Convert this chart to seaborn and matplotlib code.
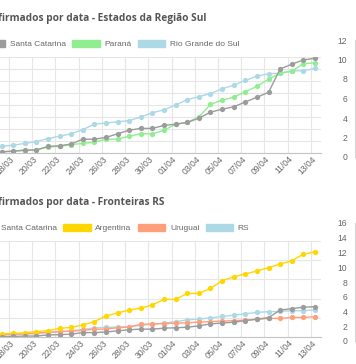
import matplotlib
matplotlib.use("Agg")
import matplotlib.pyplot as plt
from matplotlib.patches import Patch
import seaborn as sns
import pandas as pd

datas = ["17/03", "18/03", "19/03", "20/03", "21/03", "22/03", "23/03", "24/03",
         "25/03", "26/03", "27/03", "28/03", "29/03", "30/03", "31/03", "01/04",
         "02/04", "03/04", "04/04", "05/04", "06/04", "07/04", "08/04", "09/04",
         "10/04", "11/04", "12/04", "13/04"]

santa_catarina = [0.2, 0.3, 0.5, 0.5, 1.1, 1.2, 1.5, 2.3, 2.3, 2.6, 3.2, 3.8, 4.1, 4.1,
                  4.6, 4.8, 5.1, 5.8, 6.8, 7.3, 7.7, 8.5, 9.3, 10.1, 14.0, 14.8, 15.5, 15.8]
parana = [0.2, 0.3, 0.4, 0.5, 1.0, 1.1, 1.4, 1.6, 1.8, 2.3, 2.3, 2.8, 3.2, 3.2,
          3.8, 4.8, 5.1, 6.0, 8.1, 8.8, 9.3, 10.2, 11.1, 12.3, 13.3, 13.6, 14.9, 15.0]
rio_grande_sul = [1.1, 1.3, 1.6, 1.9, 2.4, 2.8, 3.2, 3.9, 4.8, 5.0, 5.2, 5.4, 6.0, 6.7,
                  7.2, 8.0, 8.9, 9.4, 9.9, 10.7, 11.3, 12.1, 12.8, 13.2, 13.3, 13.7, 13.7, 14.1]
argentina = [1.6, 1.9, 2.2, 2.8, 3.3, 4.5, 5.0, 6.3, 8.0, 11.0, 12.5, 14.1, 15.0, 16.7,
             19.6, 19.6, 22.7, 22.7, 25.3, 29.3, 31.4, 32.8, 34.4, 36.1, 38.0, 39.7, 43.1, 44.4]
uruguai = [1.2, 1.4, 1.6, 2.0, 2.4, 2.8, 3.0, 3.5, 4.0, 4.2, 4.8, 5.2, 6.6, 6.8,
           7.0, 7.2, 7.4, 7.8, 8.0, 8.3, 8.5, 8.8, 9.2, 9.7, 9.7, 10.2, 10.2, 10.6]

# eixo do grafico vizinho que aparece na borda direita do print
ticks_vizinho_sul = [0, 2, 4, 6, 8, 10, 12]
ticks_vizinho_fronteiras = [0, 2, 4, 6, 8, 10, 12, 14, 16]

CINZA = "#9c9c9c"
VERDE = "#90ee90"
AZUL = "#add8e6"
AMARELO = "#ffd700"
SALMAO = "#ffa07a"
GRADE = "#e6e6e6"
TEXTO = "#666666"

sns.set_theme(style="white")
plt.rcParams["font.family"] = ["Liberation Sans", "DejaVu Sans"]

W, H = 356, 364
fig = plt.figure(figsize=(W / 100, H / 100), dpi=100)


def caixa(x0, y0, x1, y1):
    # retangulo em pixels (origem em cima) -> coordenadas da figura
    return [x0 / W, 1 - y1 / H, (x1 - x0) / W, (y1 - y0) / H]


def grafico(rect, series, ymax, passo, titulo, fim_titulo, y_titulo, x_legenda, y_legenda):
    ax = fig.add_axes(rect)
    df = pd.DataFrame({"dia": range(len(datas))})
    # o chart.js desenha a primeira serie por cima -> desenhar ao contrario
    for nome, valores, cor in reversed(series):
        df[nome] = valores
        sns.lineplot(data=df, x="dia", y=nome, ax=ax, color=cor, linewidth=1,
                     marker="o", markersize=3.8, markeredgewidth=0, legend=False)

    ax.set_xlim(-0.13, 27.52)
    ax.set_ylim(0, ymax)
    ax.set_xlabel("")
    ax.set_ylabel("")
    ax.set_yticks(range(0, ymax + 1, passo))
    ax.tick_params(axis="y", left=False, labelleft=False)

    pos = list(range(1, len(datas), 2))
    ax.set_xticks(pos, [datas[i] for i in pos])
    ax.set_xticks([p - 0.35 for p in pos], minor=True)
    ax.tick_params(axis="x", which="major", length=0, pad=3.5, labelsize=6.2, labelcolor=TEXTO)
    ax.tick_params(axis="x", which="minor", length=4, color=GRADE, width=0.8)
    plt.setp(ax.get_xticklabels(), rotation=45, ha="right", va="center", rotation_mode="anchor")

    ax.grid(False)
    ax.yaxis.grid(True, color=GRADE, linewidth=0.8)
    ax.xaxis.grid(True, which="minor", color=GRADE, linewidth=0.8)
    for lado in ["top", "right", "left"]:
        ax.spines[lado].set_visible(False)
    ax.spines["bottom"].set_color("#c4c4c4")
    ax.spines["bottom"].set_linewidth(0.8)

    handles = [Patch(facecolor=cor, edgecolor=cor, label=nome) for nome, _, cor in series]
    ax.legend(handles=handles, loc="center left", ncol=len(handles), frameon=False,
              bbox_to_anchor=(x_legenda / W, 1 - y_legenda / H), bbox_transform=fig.transFigure,
              fontsize=6, labelcolor=TEXTO, handlelength=3.3, handleheight=1.0,
              handletextpad=0.55, columnspacing=0.75, borderpad=0, borderaxespad=0)

    fig.text(fim_titulo / W, 1 - y_titulo / H, titulo, ha="right", va="center",
             fontsize=7.3, fontweight="bold", color="#555555",
             family=["Open Sans", "DejaVu Sans"])
    return ax


def eixo_vizinho(rect, ticks):
    ax = fig.add_axes(rect)
    ax.set_ylim(ticks[0], ticks[-1])
    ax.set_yticks(ticks)
    ax.set_xticks([])
    ax.grid(False)
    for lado in ["top", "right", "bottom"]:
        ax.spines[lado].set_visible(False)
    ax.spines["left"].set_color("#d6d6d6")
    ax.spines["left"].set_linewidth(0.8)
    ax.tick_params(axis="y", length=4, width=0.8, color="#d6d6d6", pad=1.5,
                   labelsize=6.2, labelcolor=TEXTO)
    ax.patch.set_alpha(0)


grafico(caixa(0, 57, 321, 153),
        [("Santa Catarina", santa_catarina, CINZA),
         ("Paraná", parana, VERDE),
         ("Rio Grande do Sul", rio_grande_sul, AZUL)],
        16, 2, "Casos confirmados por data - Estados da Região Sul", 207, 18, -22, 44)

grafico(caixa(0, 241, 321, 337),
        [("Santa Catarina", santa_catarina, CINZA),
         ("Argentina", argentina, AMARELO),
         ("Uruguai", uruguai, SALMAO),
         ("RS", rio_grande_sul, AZUL)],
        50, 10, "Casos confirmados por data - Fronteiras RS", 165, 203, -31, 228)

eixo_vizinho(caixa(355, 40, 460, 157), ticks_vizinho_sul)
eixo_vizinho(caixa(355, 223, 460, 341), ticks_vizinho_fronteiras)

fig.savefig("out.png", dpi=100)
